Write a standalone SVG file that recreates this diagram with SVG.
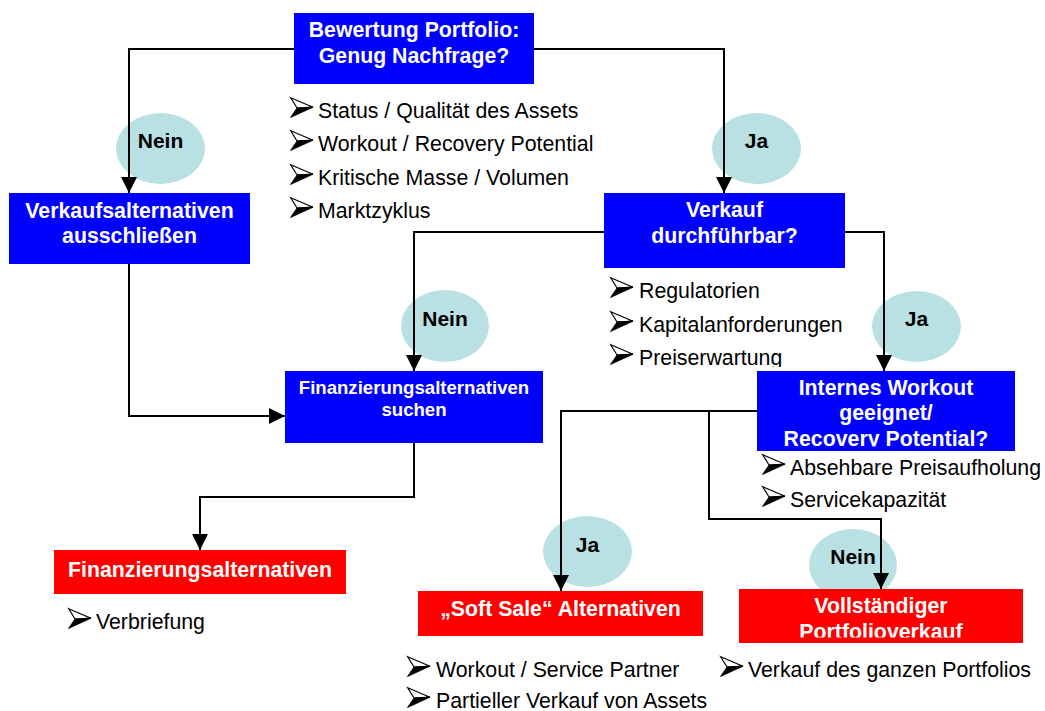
<svg xmlns="http://www.w3.org/2000/svg" xmlns:xlink="http://www.w3.org/1999/xlink" width="1045" height="711" viewBox="0 0 1045 711">
<style>
.blue{fill:#0000ff}
.red{fill:#ff0000}
.oval{fill:#b9e0e3}
.bt{font-family:"Liberation Sans",Arial,sans-serif;font-weight:bold;font-size:21.3px;fill:#ffffff;text-anchor:middle}
.lab{font-family:"Liberation Sans",Arial,sans-serif;font-weight:bold;font-size:21px;fill:#000000;text-anchor:middle}
.bl{font-family:"Liberation Sans",Arial,sans-serif;font-size:21.3px;fill:#000000}
.con{fill:none;stroke:#000000;stroke-width:2;marker-end:url(#ah)}
</style>
<defs>
<marker id="ah" markerUnits="userSpaceOnUse" markerWidth="16" markerHeight="16" refX="16" refY="8" orient="auto" viewBox="0 0 16 16">
<path d="M0,0 L16,8 L0,16 z" fill="#000000"/>
</marker>
<symbol id="bul" viewBox="0 0 24 21" width="24" height="21" overflow="visible">
<polygon points="0.7,0.7 23,10.2 7,11" fill="#ffffff" stroke="#000000" stroke-width="1.2" stroke-linejoin="miter"/>
<polygon points="7,11 23,10.2 0.5,20.5" fill="#000000" stroke="#000000" stroke-width="0.8"/>
</symbol>
<clipPath id="clipIW"><rect x="757" y="371" width="258" height="75.5"/></clipPath>
<clipPath id="clipVP"><rect x="739" y="589" width="284" height="48.5"/></clipPath>
<clipPath id="clipPE"><rect x="600" y="340" width="300" height="27"/></clipPath>
</defs>
<rect width="1045" height="711" fill="#ffffff"/>

<g id="labels">
<g id="nein1"><ellipse class="oval" cx="160.5" cy="148.5" rx="44.5" ry="35.5"/><text class="lab" x="160.5" y="148">Nein</text></g>
<g id="ja1"><ellipse class="oval" cx="756.5" cy="148.5" rx="44.5" ry="35.5"/><text class="lab" x="756.5" y="148">Ja</text></g>
<g id="nein2"><ellipse class="oval" cx="445" cy="326" rx="44" ry="36"/><text class="lab" x="445" y="326">Nein</text></g>
<g id="ja2"><ellipse class="oval" cx="916.5" cy="326.5" rx="44.5" ry="35.5"/><text class="lab" x="916.5" y="326">Ja</text></g>
<g id="ja3"><ellipse class="oval" cx="587.5" cy="551.5" rx="44.5" ry="35.5"/><text class="lab" x="587.5" y="552">Ja</text></g>
<g id="nein3"><ellipse class="oval" cx="853" cy="565" rx="44" ry="36"/><text class="lab" x="853" y="564">Nein</text></g>
</g>

<g id="connectors">
<path class="con" d="M294,49 H129 V193"/>
<path class="con" d="M534,49 H724 V193"/>
<path class="con" d="M129,264 V416 H285"/>
<path class="con" d="M604,232 H414 V371"/>
<path class="con" d="M845,232 H884 V371"/>
<path class="con" d="M414,443 V497 H200 V550"/>
<path class="con" d="M757,411 H561 V591"/>
<path class="con" d="M709,411 V519 H881 V589"/>
</g>

<g id="bewertung">
<rect class="blue" x="294" y="13" width="240" height="71"/>
<text class="bt" x="414" y="37">Bewertung Portfolio:</text>
<text class="bt" x="414" y="63">Genug Nachfrage?</text>
<use xlink:href="#bul" x="290" y="97"/><text class="bl" x="318" y="118">Status / Qualität des Assets</text>
<use xlink:href="#bul" x="290" y="130"/><text class="bl" x="318" y="151">Workout / Recovery Potential</text>
<use xlink:href="#bul" x="290" y="164"/><text class="bl" x="318" y="185">Kritische Masse / Volumen</text>
<use xlink:href="#bul" x="290" y="197"/><text class="bl" x="318" y="218">Marktzyklus</text>
</g>

<g id="verkaufsalternativen">
<rect class="blue" x="9" y="193" width="241" height="71"/>
<text class="bt" x="129.5" y="218">Verkaufsalternativen</text>
<text class="bt" x="129.5" y="243">ausschließen</text>
</g>

<g id="verkauf">
<rect class="blue" x="604" y="193" width="241" height="75"/>
<text class="bt" x="724.5" y="217">Verkauf</text>
<text class="bt" x="724.5" y="243">durchführbar?</text>
<use xlink:href="#bul" x="610" y="277"/><text class="bl" x="639" y="298">Regulatorien</text>
<use xlink:href="#bul" x="610" y="311"/><text class="bl" x="639" y="332">Kapitalanforderungen</text>
<use xlink:href="#bul" x="610" y="344"/><text class="bl" x="639" y="365" clip-path="url(#clipPE)">Preiserwartung</text>
</g>

<g id="finanz-suchen">
<rect class="blue" x="285" y="371" width="258" height="72"/>
<text class="bt" x="414" y="394" style="font-size:18.6px">Finanzierungsalternativen</text>
<text class="bt" x="414" y="416" style="font-size:18.6px">suchen</text>
</g>

<g id="internes-workout">
<rect class="blue" x="757" y="371" width="258" height="80"/>
<g clip-path="url(#clipIW)">
<text class="bt" x="886" y="395">Internes Workout</text>
<text class="bt" x="886" y="420">geeignet/</text>
<text class="bt" x="886" y="445.5">Recovery Potential?</text>
</g>
<use xlink:href="#bul" x="762" y="454"/><text class="bl" x="790" y="475">Absehbare Preisaufholung</text>
<use xlink:href="#bul" x="762" y="486"/><text class="bl" x="790" y="507">Servicekapazität</text>
</g>

<g id="finanzierungsalternativen">
<rect class="red" x="54" y="550" width="292" height="44"/>
<text class="bt" x="200" y="577">Finanzierungsalternativen</text>
<use xlink:href="#bul" x="68" y="608"/><text class="bl" x="96" y="629">Verbriefung</text>
</g>

<g id="soft-sale">
<rect class="red" x="418" y="591" width="285" height="45"/>
<text class="bt" x="560.5" y="616">„Soft Sale“ Alternativen</text>
<use xlink:href="#bul" x="407" y="656"/><text class="bl" x="436" y="677">Workout / Service Partner</text>
<use xlink:href="#bul" x="407" y="687"/><text class="bl" x="436" y="708">Partieller Verkauf von Assets</text>
</g>

<g id="vollstaendig">
<rect class="red" x="739" y="589" width="284" height="54"/>
<g clip-path="url(#clipVP)">
<text class="bt" x="881" y="613">Vollständiger</text>
<text class="bt" x="881" y="639">Portfolioverkauf</text>
</g>
<use xlink:href="#bul" x="720" y="656"/><text class="bl" x="748" y="677">Verkauf des ganzen Portfolios</text>
</g>
</svg>
